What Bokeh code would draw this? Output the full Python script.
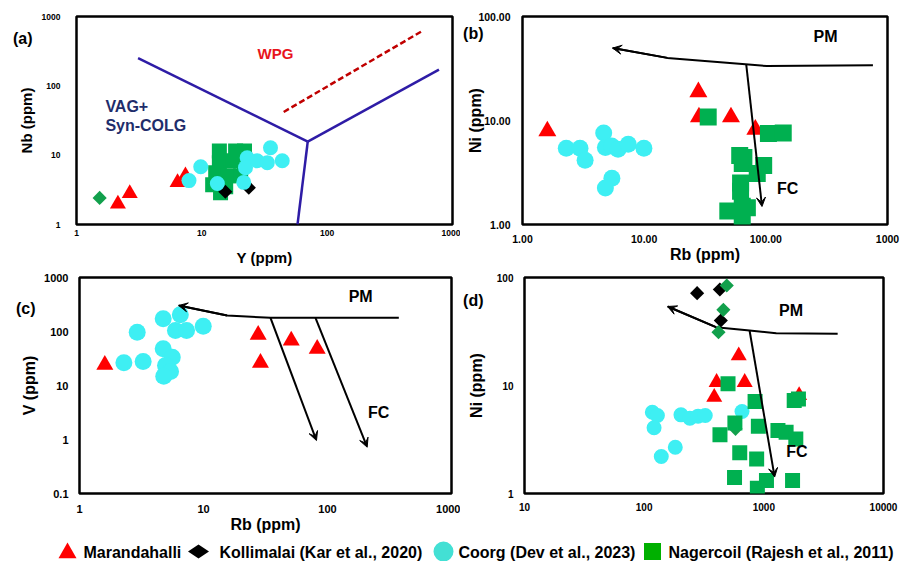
import numpy as np
from bokeh.plotting import figure
from bokeh.layouts import column, row
from bokeh.models import FixedTicker, Range1d, Arrow, VeeHead, ColumnDataSource, Label, LogAxis
from bokeh.embed import file_html
from bokeh.resources import INLINE

FONT = "Liberation Sans"
RED = "#FF0000"
CYAN = "#3EEFF3"
GREEN = "#00B050"
GREEN_D = "#12A04C"
BLUE = "#2E1CA6"

# ---------------- (a) Y vs Nb ----------------
a_mar_x = [2.14, 2.66, 6.4, 7.4]
a_mar_y = [1.98, 2.81, 4.05, 5.05]
a_kol_x = [15.4, 23.7]
a_kol_y = [2.97, 3.4]
a_coo_x = [7.9, 9.8, 13.3, 21.6, 23.0, 22.3, 27.6, 33.3, 35.3, 43.8]
a_coo_y = [4.3, 6.8, 3.9, 4.05, 9.2, 6.6, 8.3, 7.8, 12.8, 8.3]
a_nag_x = [13.8, 18.6, 21.9, 13.8, 17.6, 21.9, 12.9, 16.3, 20.4, 12.2, 15.5, 14.1]
a_nag_y = [11.5, 11.5, 11.5, 7.76, 8.28, 7.5, 5.57, 5.05, 5.05, 3.75, 3.51, 2.88]
a_oth_x = [1.53]
a_oth_y = [2.42]
a_bound_x = [[3.1, 70], [70, 780], [70, 58]]
a_bound_y = [[250, 15.7], [15.7, 171], [15.7, 1]]
a_dash_x = [45, 575]
a_dash_y = [42, 620]

# ---------------- (b) Rb vs Ni ----------------
b_mar_x = [1.6, 27.9, 28.2, 51.7, 82]
b_mar_y = [7.9, 18.8, 10.8, 10.8, 8.2]
b_coo_x = [2.29, 2.97, 3.27, 4.65, 4.8, 5.4, 6.1, 7.4, 9.95, 5.43, 4.8]
b_coo_y = [5.4, 5.4, 4.14, 7.6, 5.5, 5.7, 5.3, 5.9, 5.4, 2.78, 2.24]
b_nag_x = [33.6, 105, 139, 66, 61, 64, 96, 85, 62, 62, 70.5, 48.7, 64, 64]
b_nag_y = [10.8, 7.5, 7.6, 4.4, 4.6, 3.85, 3.7, 3.1, 2.5, 2.09, 1.45, 1.35, 1.5, 1.13]
b_pm_x = [759, 102, 68, 15.5, 5.5]
b_pm_y = [34, 33.4, 34.7, 40, 49.7]
b_fc_x = [69, 93]
b_fc_y = [34.7, 1.49]

# ---------------- (c) Rb vs V ----------------
c_mar_x = [1.6, 27.6, 28.8, 51, 82.6]
c_mar_y = [24.2, 87, 26.3, 68, 47.9]
c_coo_x = [2.28, 2.92, 3.26, 4.73, 4.73, 5.6, 4.94, 5.42, 4.78, 6.5, 5.94, 7.3, 9.95]
c_coo_y = [26.3, 97, 27.8, 172, 47.9, 33.4, 23.5, 18.2, 14.9, 204, 104, 104, 125]
c_pm_x = [376, 34.7, 15.5, 6.3]
c_pm_y = [179, 179, 198, 303]
c_fc1_x = [34.7, 81.5]
c_fc1_y = [179, 0.957]
c_fc2_x = [80, 209]
c_fc2_y = [179, 0.72]

# ---------------- (d) x vs Ni ----------------
d_kol_x = [277, 429, 437]
d_kol_y = [71.6, 77.4, 40]
d_oth_x = [490, 459, 418, 580]
d_oth_y = [84.3, 50.2, 31.2, 3.97]
d_mar_x = [617, 403, 692, 385, 1972]
d_mar_y = [18.9, 10.7, 10.7, 7.8, 8.1]
d_coo_x = [117, 129, 121, 203, 241, 282, 324, 657, 182, 139]
d_coo_y = [5.66, 5.27, 4.06, 5.35, 4.98, 5.2, 5.27, 5.74, 2.68, 2.2]
d_nag_x = [502, 845, 1794, 1946, 430, 573, 900, 1312, 1535, 1850, 629, 871, 569, 1052, 883, 1738]
d_nag_y = [10.4, 7.1, 7.26, 7.5, 3.5, 4.5, 4.2, 3.83, 3.7, 3.2, 2.38, 2.09, 1.41, 1.32, 1.12, 1.32]
d_pm_x = [4140, 1270, 760, 398, 157]
d_pm_y = [30.1, 30.5, 32.3, 34.7, 53.9]
d_fc_x = [760, 1231]
d_fc_y = [32.3, 1.42]

# ---------------- ticks ----------------
dec_ticks = [1, 10, 100, 1000]
a_tick_labels = ["1", "10", "100", "1000"]
b_x_labels = ["1.00", "10.00", "100.00", "1000"]
b_y_ticks = [1, 10, 100]
b_y_labels = ["1.00", "10.00", "100.00"]
c_x_labels = ["1", "10", "100", "1000"]
c_y_ticks = [0.1, 1, 10, 100, 1000]
c_y_labels = ["0.1", "1", "10", "100", "1000"]
d_x_ticks = [10, 100, 1000, 10000]
d_x_labels = ["10", "100", "1000", "10000"]
d_y_ticks = [1, 10, 100]
d_y_labels = ["1", "10", "100"]

panel_tags = ["(a)", "(b)", "(c)", "(d)"]
legend_labels = ["Marandahalli", "Kollimalai (Kar et al., 2020)",
                 "Coorg (Dev et al., 2023)", "Nagercoil (Rajesh et al., 2011)"]


def make_panel(width, height, xr, yr, borders, xticks, xlabels, yticks, ylabels,
               tick_size, xstand, ystand, xtitle, ytitle, title_size, xtstand, ytstand):
    p = figure(width=width, height=height, x_axis_type="log", y_axis_type="log",
               x_range=Range1d(*xr), y_range=Range1d(*yr),
               output_backend="svg", toolbar_location=None,
               min_border_left=borders[0], min_border_right=borders[1],
               min_border_top=borders[2], min_border_bottom=borders[3])
    p.grid.visible = False
    p.outline_line_color = "black"
    p.outline_line_width = 2.5
    p.outline_line_alpha = 1
    for ax, ticks, labels, st, title, tst in ((p.xaxis[0], xticks, xlabels, xstand, xtitle, xtstand),
                                              (p.yaxis[0], yticks, ylabels, ystand, ytitle, ytstand)):
        ax.ticker = FixedTicker(ticks=ticks, minor_ticks=[])
        ax.major_label_overrides = {t: l for t, l in zip(ticks, labels)}
        ax.axis_line_color = None
        ax.major_tick_line_color = None
        ax.minor_tick_line_color = None
        ax.major_tick_out = 0
        ax.major_tick_in = 0
        ax.major_label_standoff = st
        ax.major_label_text_font = FONT
        ax.major_label_text_font_style = "bold"
        ax.major_label_text_font_size = f"{tick_size}px"
        ax.major_label_text_color = "black"
        if title:
            ax.axis_label = title
            ax.axis_label_text_font = FONT
            ax.axis_label_text_font_style = "bold"
            ax.axis_label_text_font_size = f"{title_size}px"
            ax.axis_label_text_color = "black"
            ax.axis_label_standoff = tst
    return p


def panel_tag(p, yval, text, standoff):
    # panel letter drawn as the single label of an outer left axis
    ax = LogAxis(ticker=FixedTicker(ticks=[yval], minor_ticks=[]),
                 major_label_overrides={yval: text},
                 axis_line_color=None, major_tick_line_color=None, minor_tick_line_color=None,
                 major_tick_out=0, major_tick_in=0, major_label_standoff=standoff,
                 major_label_text_font=FONT, major_label_text_font_style="bold",
                 major_label_text_font_size="16px", major_label_text_color="black")
    p.add_layout(ax, "left")


def pts(p, x, y, kind, size):
    if kind == "mar":
        p.scatter(x, y, marker="triangle", size=size, fill_color=RED, line_color=None)
    elif kind == "kol":
        p.scatter(x, y, marker="square", angle=np.pi / 4, size=size, fill_color="black", line_color=None)
    elif kind == "oth":
        p.scatter(x, y, marker="square", angle=np.pi / 4, size=size, fill_color=GREEN_D, line_color=None)
    elif kind == "coo":
        p.scatter(x, y, marker="circle", size=size, fill_color=CYAN, line_color=None)
    elif kind == "nag":
        p.scatter(x, y, marker="square", size=size, fill_color=GREEN, line_color=None)


def txt(p, x, y, s, size, color="black", align="center"):
    p.add_layout(Label(x=x, y=y, text=s, text_font=FONT, text_font_style="bold",
                       text_font_size=f"{size}px", text_color=color, text_align=align,
                       text_baseline="middle"))


def arrow(p, x0, y0, x1, y1):
    p.add_layout(Arrow(end=VeeHead(size=9, fill_color="black", line_color="black", line_width=1),
                       x_start=x0, y_start=y0, x_end=x1, y_end=y1,
                       line_color="black", line_width=2))


W1, W2 = 460, 449
H1, H2, H3 = 270, 266, 25

# ---- panel (a)
pa = make_panel(W1, H1, (1, 1000), (1, 1000), (76, 8, 15, 46), dec_ticks, a_tick_labels,
                dec_ticks, a_tick_labels, 8.5, 5, 16, "Y (ppm)", "Nb (ppm)", 15, 10, 4)
panel_tag(pa, 482, panel_tags[0], -18)
pa.multi_line(a_bound_x, a_bound_y, line_color=BLUE, line_width=2.5)
pa.line(a_dash_x, a_dash_y, line_color="#C00000", line_width=2.5, line_dash="6 3")
pts(pa, a_mar_x, a_mar_y, "mar", 16)
pts(pa, a_nag_x, a_nag_y, "nag", 15)
pts(pa, a_kol_x, a_kol_y, "kol", 10)
pts(pa, a_oth_x, a_oth_y, "oth", 10)
pts(pa, a_coo_x, a_coo_y, "coo", 15)
txt(pa, 38.7, 294, "WPG", 15, "#E8141C")
txt(pa, 1.70, 51, "VAG+", 16, "#1F2D6B", "left")
txt(pa, 1.70, 27.2, "Syn-COLG", 16, "#1F2D6B", "left")

# ---- panel (b)
pb = make_panel(W2, H1, (1, 1000), (1, 100), (55, 22, 16, 41), dec_ticks, b_x_labels,
                b_y_ticks, b_y_labels, 10.5, 10, 12, "Rb (ppm)", "Ni (ppm)", 16, 0, -9)
panel_tag(pb, 69, panel_tags[1], -19)
pb.line(b_pm_x, b_pm_y, line_color="black", line_width=2)
arrow(pb, b_pm_x[-2], b_pm_y[-2], b_pm_x[-1], b_pm_y[-1])
arrow(pb, b_fc_x[0], b_fc_y[0], b_fc_x[1], b_fc_y[1])
pts(pb, b_mar_x, b_mar_y, "mar", 18)
pts(pb, b_nag_x, b_nag_y, "nag", 17)
pts(pb, b_coo_x, b_coo_y, "coo", 17)
txt(pb, 310, 64, "PM", 16)
txt(pb, 151, 2.24, "FC", 16)

# ---- panel (c)
pc = make_panel(W1, H2, (1, 1000), (0.1, 1000), (79, 9, 7, 43), dec_ticks, c_x_labels,
                c_y_ticks, c_y_labels, 11, 11, 11, "Rb (ppm)", "V (ppm)", 16, 0, 3)
panel_tag(pc, 267, panel_tags[2], -17)
pc.line(c_pm_x, c_pm_y, line_color="black", line_width=2)
arrow(pc, c_pm_x[-2], c_pm_y[-2], c_pm_x[-1], c_pm_y[-1])
arrow(pc, c_fc1_x[0], c_fc1_y[0], c_fc1_x[1], c_fc1_y[1])
arrow(pc, c_fc2_x[0], c_fc2_y[0], c_fc2_x[1], c_fc2_y[1])
pts(pc, c_mar_x, c_mar_y, "mar", 17)
pts(pc, c_coo_x, c_coo_y, "coo", 17)
txt(pc, 185, 451, "PM", 16)
txt(pc, 259, 3.2, "FC", 16)

# ---- panel (d)
pd = make_panel(W2, H2, (10, 10000), (1, 100), (57, 26, 7, 43), d_x_ticks, d_x_labels,
                d_y_ticks, d_y_labels, 10, 9, 11, None, "Ni (ppm)", 16, 0, 9)
panel_tag(pd, 61, panel_tags[3], -19)
pd.line(d_pm_x, d_pm_y, line_color="black", line_width=2)
arrow(pd, d_pm_x[-2], d_pm_y[-2], d_pm_x[-1], d_pm_y[-1])
arrow(pd, d_fc_x[0], d_fc_y[0], d_fc_x[1], d_fc_y[1])
pts(pd, d_mar_x, d_mar_y, "mar", 16)
pts(pd, d_kol_x, d_kol_y, "kol", 10)
pts(pd, d_oth_x, d_oth_y, "oth", 10)
pts(pd, d_coo_x, d_coo_y, "coo", 15)
pts(pd, d_nag_x, d_nag_y, "nag", 15)
txt(pd, 1687, 49.5, "PM", 16)
txt(pd, 1888, 2.45, "FC", 16)

# ---- legend strip
pl = figure(width=909, height=H3, x_range=Range1d(0, 909), y_range=Range1d(0, H3),
            output_backend="svg", toolbar_location=None, min_border=0,
            x_axis_location=None, y_axis_location=None)
pl.grid.visible = False
pl.outline_line_color = None
leg_marker_x = [67, 198, 443, 652]
leg_text_x = [83, 219, 458, 668]
leg_src = ColumnDataSource(dict(
    x=leg_marker_x, y=[8.5, 10, 10, 10],
    marker=["triangle", "diamond", "circle", "square"],
    angle=[0, np.pi / 2, 0, 0], size=[18, 21, 20, 17],
    color=[RED, "black", "#43E0D4", "#00B000"]))
pl.scatter(x="x", y="y", marker="marker", angle="angle", size="size",
           fill_color="color", line_color=None, source=leg_src)
for tx, lab in zip(leg_text_x, legend_labels):
    pl.add_layout(Label(x=tx, y=9.5, text=lab, text_font=FONT, text_font_style="bold",
                        text_font_size="16px", text_color="black", text_align="left",
                        text_baseline="middle"))

layout = column(row(pa, pb), row(pc, pd), pl)
open("out.html", "w").write(file_html(layout, INLINE))
